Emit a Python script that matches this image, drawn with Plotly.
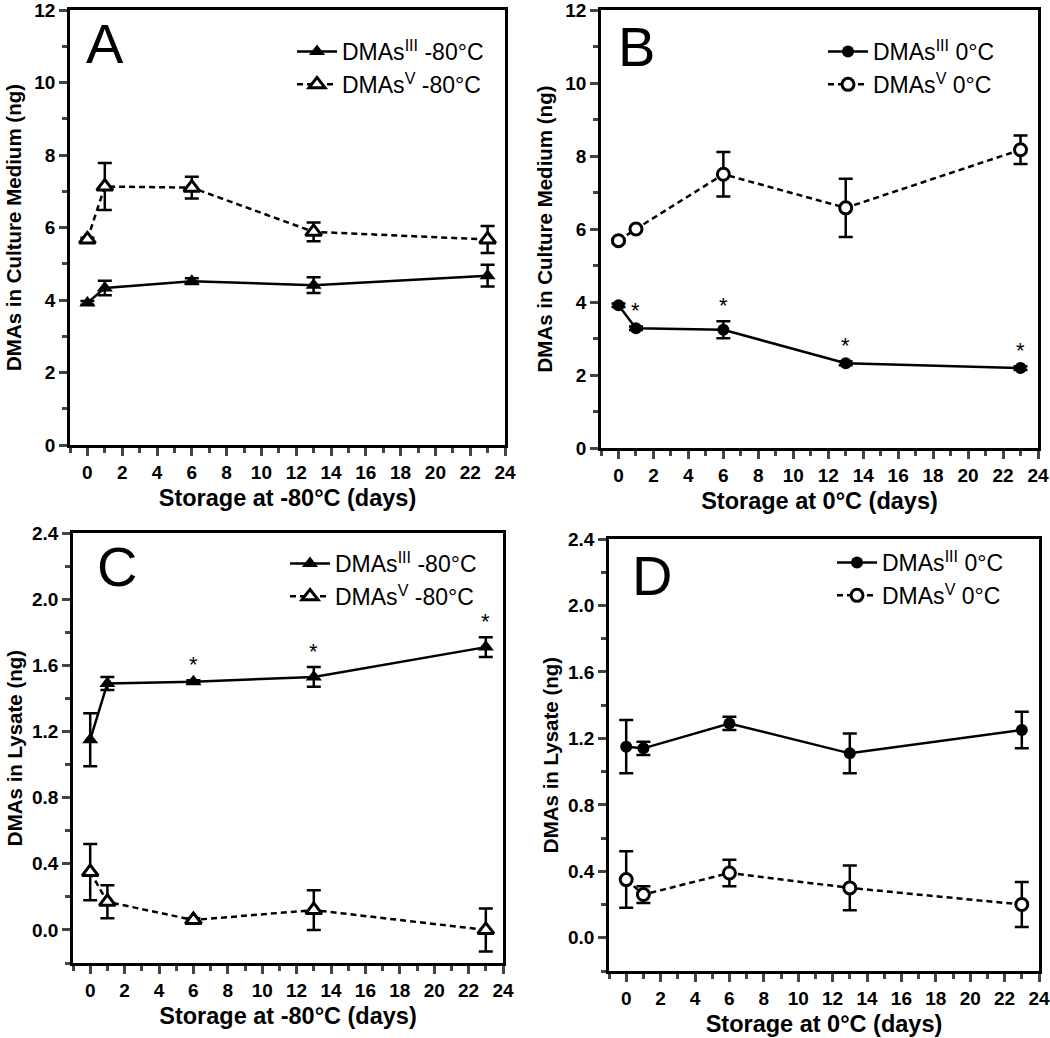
import plotly.graph_objects as go

# ---------------- data ----------------
days = [0, 1, 6, 13, 23]

# Panel A: culture medium, -80 °C
A_III = [3.92, 4.33, 4.52, 4.41, 4.67]
A_III_err = [0.05, 0.20, 0.08, 0.22, 0.30]
A_V = [5.67, 7.13, 7.10, 5.88, 5.67]
A_V_err = [0.05, 0.65, 0.30, 0.26, 0.37]

# Panel B: culture medium, 0 °C
B_III = [3.91, 3.28, 3.24, 2.32, 2.19]
B_III_err = [0.05, 0.05, 0.23, 0.05, 0.05]
B_V = [5.68, 6.00, 7.50, 6.58, 8.17]
B_V_err = [0.05, 0.05, 0.61, 0.80, 0.39]
B_sig = [False, True, True, True, True]

# Panel C: lysate, -80 °C
C_III = [1.15, 1.49, 1.50, 1.53, 1.71]
C_III_err = [0.16, 0.04, 0.01, 0.06, 0.06]
C_V = [0.35, 0.17, 0.06, 0.12, 0.00]
C_V_err = [0.17, 0.10, 0.01, 0.12, 0.13]
C_sig = [False, False, True, True, True]

# Panel D: lysate, 0 °C
D_III = [1.15, 1.14, 1.29, 1.11, 1.25]
D_III_err = [0.16, 0.04, 0.04, 0.12, 0.11]
D_V = [0.35, 0.26, 0.39, 0.30, 0.20]
D_V_err = [0.17, 0.05, 0.08, 0.135, 0.135]

x_ticks = list(range(0, 25, 2))
medium_ticks = [0, 2, 4, 6, 8, 10, 12]
lysate_ticks = [0.0, 0.4, 0.8, 1.2, 1.6, 2.0, 2.4]

FONT = "Arial, Liberation Sans, sans-serif"
W, H = 1050, 1038

# panel pixel boxes (left, right, top, bottom)
boxes = {
    "A": (70, 505, 10, 445),
    "B": (601, 1038, 10, 448),
    "C": (73, 503, 533, 963),
    "D": (609, 1039, 539, 971),
}

fig = go.Figure()


def add_series(n, y, err, symbol, dash, name, legend, filled):
    marker = dict(symbol=symbol, size=14 if "triangle" in symbol else 12,
                  color="black" if filled else "white",
                  line=dict(color="black", width=0 if filled else 3))
    fig.add_trace(go.Scatter(
        x=days, y=y, mode="lines+markers", name=name,
        xaxis=f"x{n}" if n > 1 else "x", yaxis=f"y{n}" if n > 1 else "y",
        line=dict(color="black", width=2.5, dash=dash),
        marker=marker,
        error_y=dict(type="data", array=err, visible=True, color="black",
                     thickness=2.5, width=7),
        legend=legend,
    ))


panels = [
    (1, "A", A_III, A_III_err, A_V, A_V_err, "triangle-up", "-80°C"),
    (2, "B", B_III, B_III_err, B_V, B_V_err, "circle", "0°C"),
    (3, "C", C_III, C_III_err, C_V, C_V_err, "triangle-up", "-80°C"),
    (4, "D", D_III, D_III_err, D_V, D_V_err, "circle", "0°C"),
]

for n, letter, y3, e3, y5, e5, sym, temp in panels:
    lg = "legend" if n == 1 else f"legend{n}"
    add_series(n, y3, e3, sym, "solid", f"DMAs<sup>III</sup> {temp}", lg, True)
    add_series(n, y5, e5, sym, "6px,4px", f"DMAs<sup>V</sup> {temp}", lg, False)

layout = dict(
    width=W, height=H,
    margin=dict(l=0, r=0, t=0, b=0, autoexpand=False),
    paper_bgcolor="white", plot_bgcolor="white",
    font=dict(family=FONT, color="black"),
    showlegend=True,
)

# legend anchor offsets (pixels from panel left / top)
legend_off = {"A": (222, 20), "B": (222, 20), "C": (212, 9), "D": (223, 2)}
# panel letter offsets (pixels from panel left / top)
letter_off = {"A": (14, 0), "B": (15, 3), "C": (22, 0), "D": (21, 3)}

for n, letter, y3, e3, y5, e5, sym, temp in panels:
    l, r, t, b = boxes[letter]
    xd = [l / W, r / W]
    yd = [1 - b / H, 1 - t / H]
    xk = "xaxis" if n == 1 else f"xaxis{n}"
    yk = "yaxis" if n == 1 else f"yaxis{n}"
    xa = "x" if n == 1 else f"x{n}"
    ya = "y" if n == 1 else f"y{n}"
    medium = n <= 2
    layout[xk] = dict(
        domain=xd, anchor=ya, range=[-1, 24], automargin=False,
        tickvals=x_ticks, ticks="outside", ticklen=8, tickwidth=2.5,
        ticklabeloverflow="allow",
        minor=dict(dtick=1, tick0=0, ticks="outside", ticklen=5, tickwidth=2.5),
        showline=True, linewidth=2.5, linecolor="black", mirror=True,
        showgrid=False, zeroline=False,
        tickfont=dict(size=19, family=FONT, weight="bold"),
        title=dict(text=f"Storage at {temp} (days)",
                   font=dict(size=23.5, family=FONT, weight="bold"), standoff=9),
    )
    layout[yk] = dict(
        domain=yd, anchor=xa, automargin=False,
        range=[0, 12] if medium else [-0.2, 2.4],
        tickvals=medium_ticks if medium else lysate_ticks,
        tickformat="d" if medium else ".1f",
        ticks="outside", ticklen=8, tickwidth=2.5,
        ticklabeloverflow="allow",
        minor=dict(dtick=1 if medium else 0.2, tick0=0, ticks="outside",
                   ticklen=5, tickwidth=2.5),
        showline=True, linewidth=2.5, linecolor="black", mirror=True,
        showgrid=False, zeroline=False,
        tickfont=dict(size=19, family=FONT, weight="bold"),
        title=dict(text="DMAs in Culture Medium (ng)" if medium else "DMAs in Lysate (ng)",
                   font=dict(size=20.5, family=FONT, weight="bold"),
                   standoff=8 if medium else 4),
    )
    lg = "legend" if n == 1 else f"legend{n}"
    ox, oy = legend_off[letter]
    layout[lg] = dict(
        x=(l + ox) / W, y=1 - (t + oy) / H, xanchor="left", yanchor="top",
        font=dict(size=23, family=FONT), bgcolor="rgba(0,0,0,0)",
        itemwidth=40, tracegroupgap=0,
    )

fig.update_layout(**layout)

# panel letters
for n, letter, *_ in panels:
    l, r, t, b = boxes[letter]
    lx, ly = letter_off[letter]
    fig.add_annotation(text=letter, xref="paper", yref="paper",
                       x=(l + lx) / W, y=1 - (t + ly) / H,
                       xanchor="left", yanchor="top", showarrow=False,
                       font=dict(size=56, family=FONT))

# significance asterisks
for xa, ya, yv, ev, sig in [("x2", "y2", B_III, B_III_err, B_sig),
                            ("x3", "y3", C_III, C_III_err, C_sig)]:
    for d, v, e, s in zip(days, yv, ev, sig):
        if s:
            fig.add_annotation(text="*", xref=xa, yref=ya, x=d, y=v + e,
                               yanchor="bottom", yshift=1, showarrow=False,
                               font=dict(size=22, family=FONT))

fig.write_html("out.html", config={"displayModeBar": False},
               post_script="document.body.style.margin='0';document.body.style.overflow='hidden';")
